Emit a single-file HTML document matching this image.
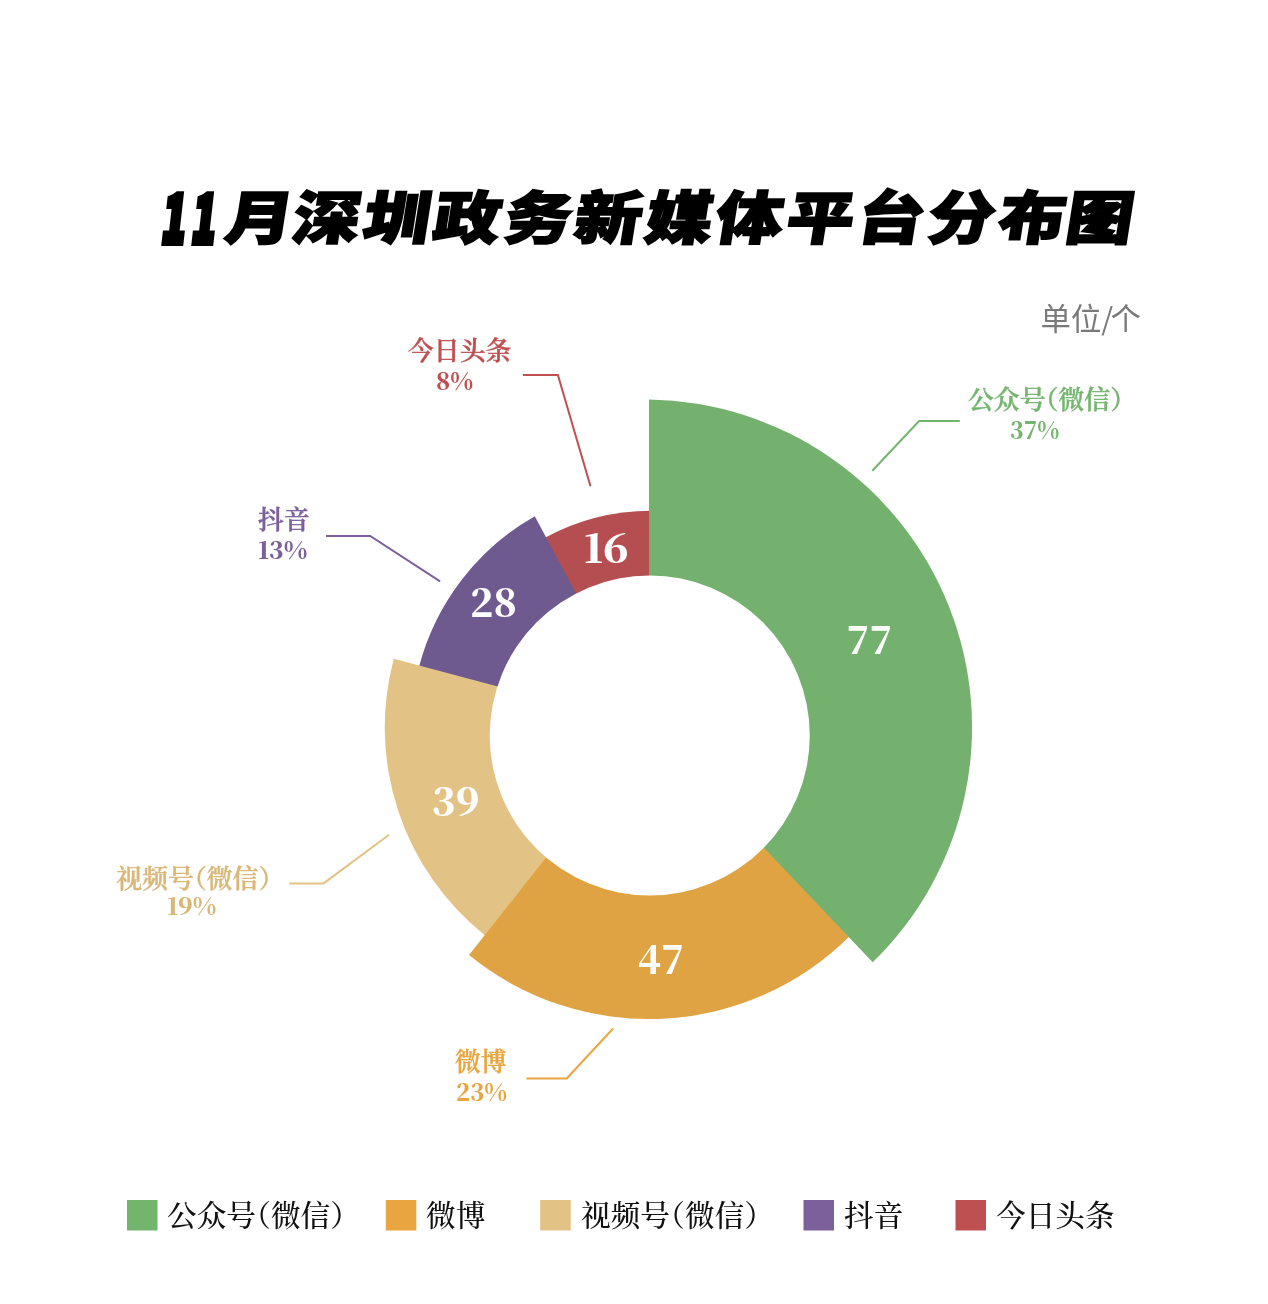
<!DOCTYPE html>
<html lang="zh-CN">
<head>
<meta charset="utf-8">
<title>11月深圳政务新媒体平台分布图</title>
<style>
html,body{margin:0;padding:0;background:#fff;}
body{width:1268px;height:1304px;overflow:hidden;position:relative;}
svg{position:absolute;left:0;top:0;display:block;}
.title{font-family:"Noto Sans CJK SC","Liberation Sans",sans-serif;font-weight:900;font-size:57.6px;fill:#000;stroke:#000;stroke-width:1.9px;stroke-linejoin:miter;}
.t11{font-size:65.3px;stroke-width:6px;}
.unit{font-family:"Noto Sans CJK SC","Liberation Sans",sans-serif;font-weight:400;font-size:30.4px;fill:#7a7a7a;}
.lab{font-family:"Noto Serif CJK SC","Liberation Serif",serif;font-weight:600;font-size:25.85px;font-feature-settings:"halt";}
.val{font-family:"Noto Serif CJK SC","Liberation Serif",serif;font-weight:900;font-size:39px;fill:#fff;text-anchor:middle;}
.leg{font-family:"Noto Serif CJK SC","Liberation Serif",serif;font-weight:500;font-size:29.7px;fill:#111;font-feature-settings:"halt";}
.lab text{stroke-width:.35px;}
.lab .pct{font-weight:900;font-size:24px;stroke:none;}
.ln{fill:none;stroke-width:2;}
</style>
</head>
<body>
<svg width="1268" height="1304" viewBox="0 0 1268 1304">
<rect width="1268" height="1304" fill="#fff"/>

<!-- title -->
<g transform="translate(160.3,243) skewX(-6.5) scale(0.6,1)">
<text class="title t11" x="0 49.8" y="0">11</text>
</g>
<g transform="translate(223,239.3) skewX(-9) scale(1.165,1)">
<text class="title" x="0.00 57.77 118.11 178.45 239.23 299.57 360.34 420.69 481.46 542.23 602.58 663.35 721.55" y="0">月深圳政务新媒体平台分布图</text>
</g>

<text class="unit" x="1040.5" y="330">单位/<tspan dx="-2.8">个</tspan></text>

<!-- sectors -->
<g id="chart">
<path fill="#b54e50" d="M545.4 537.4 A224 224 0 0 1 650.5 510.7 L650.5 600 L578.5 601 Z"/>
<path fill="#6e5a8e" d="M418.9 667.2 A245 245 0 0 1 534.8 516.2 L580 600.8 L520 700 L500 689 Z"/>
<path fill="#e3c385" d="M485.6 935.9 A266 266 0 0 1 393.8 658.7 L520 692.3 L561.5 841 Z"/>
<path fill="#e0a343" d="M849.7 936.3 A285 285 0 0 1 469 955.1 L553.4 848.3 L649 880 L761.2 842.4 Z"/>
<path fill="#75b16e" d="M649 399.6 A327.7 327.7 0 0 1 872.7 962.3 L753.8 837 L649 600 Z"/>
<circle cx="649.75" cy="735.5" r="160" fill="#fff"/>
</g>

<!-- values -->
<text class="val" x="869.5" y="654" style="font-size:37.8px">77</text>
<text class="val" x="661" y="974.3" style="font-size:38.3px">47</text>
<text class="val" x="455.8" y="816.3" style="font-size:38.7px">39</text>
<text class="val" x="493.6" y="616.8" style="font-size:38.3px">28</text>
<text class="val" transform="translate(606.2,562.7) scale(1.06,1)" style="font-size:39.5px">16</text>

<!-- leader lines -->
<polyline class="ln" stroke="#74b56e" points="872.3,470.7 919.1,421 959.8,421"/>
<polyline class="ln" stroke="#be5052" points="522.9,374.9 557.9,374.9 590.5,486.2"/>
<polyline class="ln" stroke="#7b609b" points="326.1,536 370.2,536 440.1,581.3"/>
<polyline class="ln" stroke="#e3c385" points="289.3,883.4 323.6,883.4 389.1,834.7"/>
<polyline class="ln" stroke="#e9a540" points="526.4,1078.5 566.7,1078.5 613.1,1028.5"/>

<!-- labels -->
<g class="lab" fill="#74b56e" stroke="#74b56e"><text x="968" y="409">公众号（微信）</text><text class="pct" transform="translate(1010,438.5) scale(.935,1)">37%</text></g>
<g class="lab" fill="#be5052" stroke="#be5052"><text x="408" y="360">今日头条</text><text class="pct" transform="translate(436,390) scale(.97,1)">8%</text></g>
<g class="lab" fill="#7b609b" stroke="#7b609b"><text x="258" y="528.5">抖音</text><text class="pct" x="258" y="558.8">13%</text></g>
<g class="lab" fill="#d9b777" stroke="#d9b777"><text x="116.3" y="888">视频号（微信）</text><text class="pct" x="167" y="915">19%</text></g>
<g class="lab" fill="#e9a540" stroke="#e9a540"><text x="455" y="1071">微博</text><text class="pct" transform="translate(456,1101) scale(.965,1)">23%</text></g>

<!-- legend -->
<g id="legend">
<rect x="127" y="1200" width="30.5" height="30.5" fill="#74b56e"/><text class="leg" x="167" y="1225.8">公众号（微信）</text>
<rect x="385.8" y="1200" width="30.5" height="30.5" fill="#e9a540"/><text class="leg" x="426" y="1225.8">微博</text>
<rect x="540.2" y="1200" width="30.5" height="30.5" fill="#e3c385"/><text class="leg" x="581" y="1225.8">视频号（微信）</text>
<rect x="803.5" y="1200" width="30.5" height="30.5" fill="#7b609b"/><text class="leg" x="844" y="1225.8">抖音</text>
<rect x="955.5" y="1200" width="30.5" height="30.5" fill="#be5052"/><text class="leg" x="996" y="1225.8">今日头条</text>
</g>
</svg>
</body>
</html>
